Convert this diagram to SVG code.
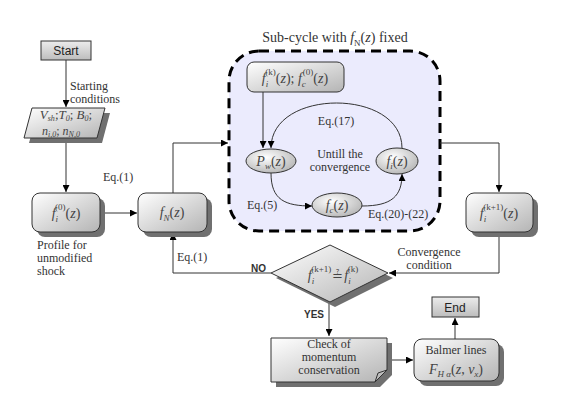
<svg xmlns="http://www.w3.org/2000/svg" width="581" height="411" viewBox="0 0 581 411">
<defs>
<linearGradient id="gb" x1="0" y1="0" x2="1" y2="1">
<stop offset="0" stop-color="#ffffff"/>
<stop offset="1" stop-color="#b4b4b4"/>
</linearGradient>
<linearGradient id="gs" x1="0" y1="0" x2="0" y2="1">
<stop offset="0" stop-color="#ececec"/>
<stop offset="1" stop-color="#bdbdbd"/>
</linearGradient>
<radialGradient id="ge" cx="0.4" cy="0.35" r="0.75">
<stop offset="0" stop-color="#ffffff"/>
<stop offset="1" stop-color="#b0b0b0"/>
</radialGradient>
<marker id="ar" viewBox="0 0 10 10" refX="10" refY="5" markerWidth="7" markerHeight="7" orient="auto" markerUnits="userSpaceOnUse">
<path d="M0,0 L10,5 L0,10 z" fill="#000"/>
</marker>
</defs>
<style>
.sh{fill:#707070;stroke:none}
.bx{fill:url(#gb);stroke:#333;stroke-width:1}
.sb{fill:url(#gs);stroke:#333;stroke-width:1}
.el{fill:url(#ge);stroke:#333;stroke-width:1}
.ln{fill:none;stroke:#333;stroke-width:1}
.ar{fill:none;stroke:#333;stroke-width:1;marker-end:url(#ar)}
.t{font-family:"Liberation Serif","Times New Roman",serif;font-size:12px;fill:#333}
.m{font-family:"Liberation Serif","Times New Roman",serif;font-size:14px;fill:#444}
.i{font-style:italic}
.n{font-style:normal}
.s{font-size:9px}
.ss{font-size:8px}
.b{font-family:"Liberation Sans",Arial,sans-serif;font-size:10px;font-weight:bold;fill:#333}
.st{font-family:"Liberation Sans",Arial,sans-serif;font-size:12px;fill:#222}
</style>
<rect width="581" height="411" fill="#fff"/>

<g id="subcycle">
<rect x="229" y="51" width="211" height="180" rx="30" fill="#ebebfd" stroke="#000" stroke-width="3" stroke-dasharray="10,6"/>
<text class="t" x="335" y="42" text-anchor="middle" style="font-size:14px">Sub-cycle with <tspan class="i">f</tspan><tspan class="s" dy="4">N</tspan><tspan dy="-4">(</tspan><tspan class="i">z</tspan>) fixed</text>
</g>

<g id="connectors">
<path class="ar" d="M66,60 V107"/>
<path class="ar" d="M66,139 V192"/>
<path class="ar" d="M100,213 H137"/>
<path class="ar" d="M173,193 V143 H228"/>
<path class="ar" d="M440,143 H499 V192"/>
<path class="ar" d="M499,233 V273 H389"/>
<path class="ar" d="M271,273 H173 V233"/>
<path class="ar" d="M329,302 V336"/>
<path class="ar" d="M387,360 H413"/>
<path class="ar" d="M455,339 V318"/>
<path class="ar" d="M263,92 V148"/>
<path class="ar" d="M402,148 C402,88 271,88 271,148"/>
<path class="ar" d="M271,173 C271,200 285,206 312,206"/>
<path class="ar" d="M362,206 C392,206 402,196 402,174"/>
</g>

<g id="labels">
<text class="t" x="70" y="90">Starting</text>
<text class="t" x="70" y="103">conditions</text>
<text class="t" x="103" y="181">Eq.(1)</text>
<text class="t" x="37" y="249">Profile for</text>
<text class="t" x="37" y="262">unmodified</text>
<text class="t" x="37" y="275">shock</text>
<text class="t" x="177" y="261">Eq.(1)</text>
<text class="b" x="251" y="272">NO</text>
<text class="b" x="304" y="318">YES</text>
<text class="t" x="429" y="256" text-anchor="middle">Convergence</text>
<text class="t" x="429" y="269" text-anchor="middle">condition</text>
<text class="t" x="336" y="125" text-anchor="middle">Eq.(17)</text>
<text class="t" x="340" y="158" text-anchor="middle">Untill the</text>
<text class="t" x="340" y="171" text-anchor="middle">convergence</text>
<text class="t" x="247" y="209">Eq.(5)</text>
<text class="t" x="368" y="218">Eq.(20)-(22)</text>
</g>

<g id="start">
<rect class="sb" x="41" y="41" width="50" height="19"/>
<text class="st" x="66" y="55" text-anchor="middle">Start</text>
</g>

<g id="conditions">
<path class="sh" d="M37,113 L110,113 L102,143 L29,143 z"/>
<path class="bx" d="M32,108 L105,108 L97,138 L24,138 z"/>
<text class="m i" x="66" y="119" text-anchor="middle" style="font-size:13px">V<tspan class="ss" dy="2">sh</tspan><tspan class="n" dy="-2">;</tspan>T<tspan class="ss" dy="2">0</tspan><tspan class="n" dy="-2">; </tspan>B<tspan class="ss" dy="2">0</tspan><tspan class="n" dy="-2">;</tspan></text>
<text class="m i" x="61" y="135" text-anchor="middle" style="font-size:12px">n<tspan class="ss" dy="2">i,0</tspan><tspan class="n" dy="-2">; </tspan>n<tspan class="ss" dy="2">N,0</tspan></text>
</g>

<g id="fi0">
<rect class="sh" x="37" y="198" width="68" height="39" rx="8"/>
<rect class="bx" x="32" y="193" width="68" height="39" rx="8"/>
<text class="m" x="66" y="218" text-anchor="middle"><tspan class="i">f</tspan><tspan class="s i" dy="4">i</tspan><tspan class="s" dx="-3" dy="-12">(0)</tspan><tspan dy="8">(</tspan><tspan class="i">z</tspan>)</text>
</g>

<g id="fN">
<rect class="sh" x="143" y="198" width="69" height="39" rx="8"/>
<rect class="bx" x="138" y="193" width="69" height="39" rx="8"/>
<text class="m" x="172" y="217" text-anchor="middle"><tspan class="i">f</tspan><tspan class="s i" dy="4">N</tspan><tspan dy="-4">(</tspan><tspan class="i">z</tspan>)</text>
</g>

<g id="fik_fc0">
<rect class="bx" x="247" y="62" width="97" height="30" rx="7"/>
<text class="m" x="295" y="83" text-anchor="middle"><tspan class="i">f</tspan><tspan class="s i" dy="4">i</tspan><tspan class="s" dx="-3" dy="-12">(k)</tspan><tspan dy="8">(</tspan><tspan class="i">z</tspan>);  <tspan class="i">f</tspan><tspan class="s i" dy="4">c</tspan><tspan class="s" dx="-3" dy="-12">(0)</tspan><tspan dy="8">(</tspan><tspan class="i">z</tspan>)</text>
</g>

<g id="Pw">
<ellipse class="el" cx="271" cy="161" rx="25" ry="12"/>
<text class="m" x="271" y="166" text-anchor="middle"><tspan class="i">P</tspan><tspan class="s i" dy="3">w</tspan><tspan dy="-3">(</tspan><tspan class="i">z</tspan>)</text>
</g>

<g id="fi">
<ellipse class="el" cx="397" cy="161" rx="21" ry="13"/>
<text class="m" x="397" y="166" text-anchor="middle"><tspan class="i">f</tspan><tspan class="s i" dy="3">i</tspan><tspan dy="-3">(</tspan><tspan class="i">z</tspan>)</text>
</g>

<g id="fc">
<ellipse class="el" cx="337" cy="205" rx="25" ry="12"/>
<text class="m" x="337" y="210" text-anchor="middle"><tspan class="i">f</tspan><tspan class="s i" dy="3">c</tspan><tspan dy="-3">(</tspan><tspan class="i">z</tspan>)</text>
</g>

<g id="fik1">
<rect class="sh" x="471" y="198" width="67" height="39" rx="8"/>
<rect class="bx" x="466" y="193" width="67" height="39" rx="8"/>
<text class="m" x="499" y="218" text-anchor="middle"><tspan class="i">f</tspan><tspan class="s i" dy="4">i</tspan><tspan class="s" dx="-3" dy="-12">(k+1)</tspan><tspan dy="8">(</tspan><tspan class="i">z</tspan>)</text>
</g>

<g id="decision">
<path class="sh" d="M276,278 L335,250 L393,278 L335,307 z"/>
<path class="bx" d="M271,273 L330,245 L388,273 L330,302 z"/>
<text class="m" x="333" y="280" text-anchor="middle"><tspan class="i">f</tspan><tspan class="s i" dy="4">i</tspan><tspan class="s" dx="-3" dy="-12">(k+1)</tspan><tspan dx="1" dy="8" style="font-family:'DejaVu Serif','DejaVu Sans',serif;font-size:13px">≟</tspan><tspan class="i" dx="1">f</tspan><tspan class="s i" dy="4">i</tspan><tspan class="s" dx="-3" dy="-12">(k)</tspan></text>
</g>

<g id="check">
<path class="sh" d="M276,343 H392 V375 L380,387 H276 z"/>
<path class="bx" d="M271,338 H387 V370 L375,382 H271 z"/>
<path class="ln" d="M375,382 L378,373 L387,370" fill="#ccc"/>
<text class="t" x="329" y="348" text-anchor="middle">Check of</text>
<text class="t" x="329" y="361" text-anchor="middle">momentum</text>
<text class="t" x="329" y="374" text-anchor="middle">conservation</text>
</g>

<g id="balmer">
<rect class="sh" x="419" y="344" width="85" height="42" rx="8"/>
<rect class="bx" x="414" y="339" width="85" height="42" rx="8"/>
<text class="t" x="456" y="354" text-anchor="middle">Balmer lines</text>
<text class="m" x="456" y="374" text-anchor="middle"><tspan class="i">F</tspan><tspan class="s i" dy="3">H α</tspan><tspan dy="-3">(</tspan><tspan class="i">z</tspan>, <tspan class="i">ν</tspan><tspan class="s i" dy="3">x</tspan><tspan dy="-3">)</tspan></text>
</g>

<g id="end">
<rect class="sb" x="432" y="297" width="47" height="20"/>
<text class="st" x="455" y="312" text-anchor="middle">End</text>
</g>
</svg>
